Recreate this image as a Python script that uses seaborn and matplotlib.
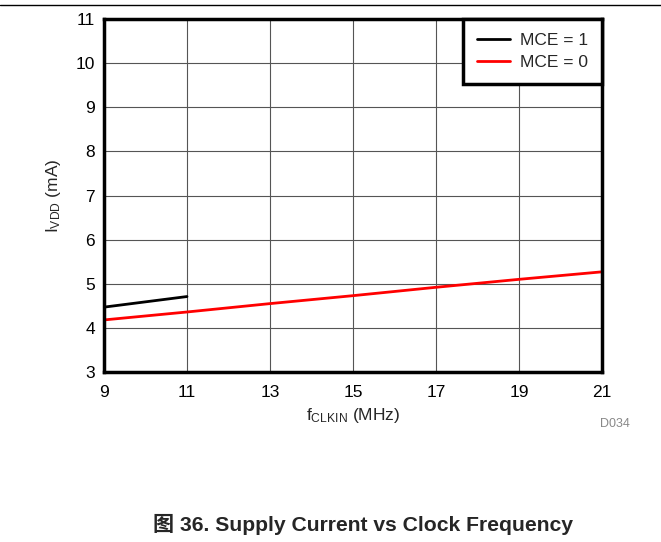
import matplotlib
matplotlib.use('Agg')
import matplotlib.pyplot as plt
import seaborn as sns
import pandas as pd

# data
freq_mce1 = [9, 10, 11]
idd_mce1 = [4.47, 4.59, 4.71]
freq_mce0 = [9, 11, 13, 15, 17, 19, 21]
idd_mce0 = [4.18, 4.36, 4.55, 4.73, 4.92, 5.10, 5.27]
x_ticks = [9, 11, 13, 15, 17, 19, 21]
y_ticks = [3, 4, 5, 6, 7, 8, 9, 10, 11]

df = pd.concat([
    pd.DataFrame({'f': freq_mce1, 'i': idd_mce1, 'MCE': 'MCE = 1'}),
    pd.DataFrame({'f': freq_mce0, 'i': idd_mce0, 'MCE': 'MCE = 0'}),
])

sns.set_style('white')
plt.rcParams['font.family'] = ['Liberation Sans', 'Noto Sans CJK SC', 'DejaVu Sans']
plt.rcParams['mathtext.fontset'] = 'custom'
plt.rcParams['mathtext.rm'] = 'Liberation Sans'
plt.rcParams['mathtext.it'] = 'Liberation Sans'

fig = plt.figure(figsize=(6.61, 5.42), dpi=100)
ax = fig.add_axes([104 / 661, 1 - 372 / 542, 498 / 661, 353 / 542])

sns.lineplot(data=df, x='f', y='i', hue='MCE', palette={'MCE = 1': 'black', 'MCE = 0': '#ff0000'},
             linewidth=2, ax=ax, sort=False)

ax.set_xlim(9, 21)
ax.set_ylim(3, 11)
ax.set_xticks(x_ticks)
ax.set_yticks(y_ticks)
ax.grid(True, color='#555555', linewidth=0.8)
ax.tick_params(axis='both', length=0, labelsize=12.5, colors='black')
ax.tick_params(axis='x', pad=9.5)
ax.tick_params(axis='y', pad=6.5)
for s in ax.spines.values():
    s.set_color('black')
    s.set_linewidth(2.5)

ax.set_xlabel(r'f$_{\mathregular{CLKIN}}$ (MHz)', fontsize=12.5, labelpad=4)
ax.set_ylabel(r'I$_{\mathregular{VDD}}$ (mA)', fontsize=12.5, labelpad=9)

leg = ax.legend(loc='upper right', fontsize=12.5, frameon=True, fancybox=False,
                borderaxespad=0, handlelength=1.9, handletextpad=0.6,
                labelspacing=0.4, borderpad=0.8)
leg.get_frame().set_edgecolor('black')
leg.get_frame().set_linewidth(2.5)
leg.get_frame().set_alpha(1)

fig.text(615 / 661, 1 - 424 / 542, 'D034', fontsize=9, color='#888888', ha='center', va='center')
fig.text(363 / 661, 1 - 524 / 542, '图 36. Supply Current vs Clock Frequency', fontsize=15.2,
         fontweight='bold', ha='center', va='center')
fig.add_artist(plt.Line2D([0, 1], [1 - 5 / 542, 1 - 5 / 542], color='black', linewidth=1))

fig.savefig('out.png', dpi=100)
